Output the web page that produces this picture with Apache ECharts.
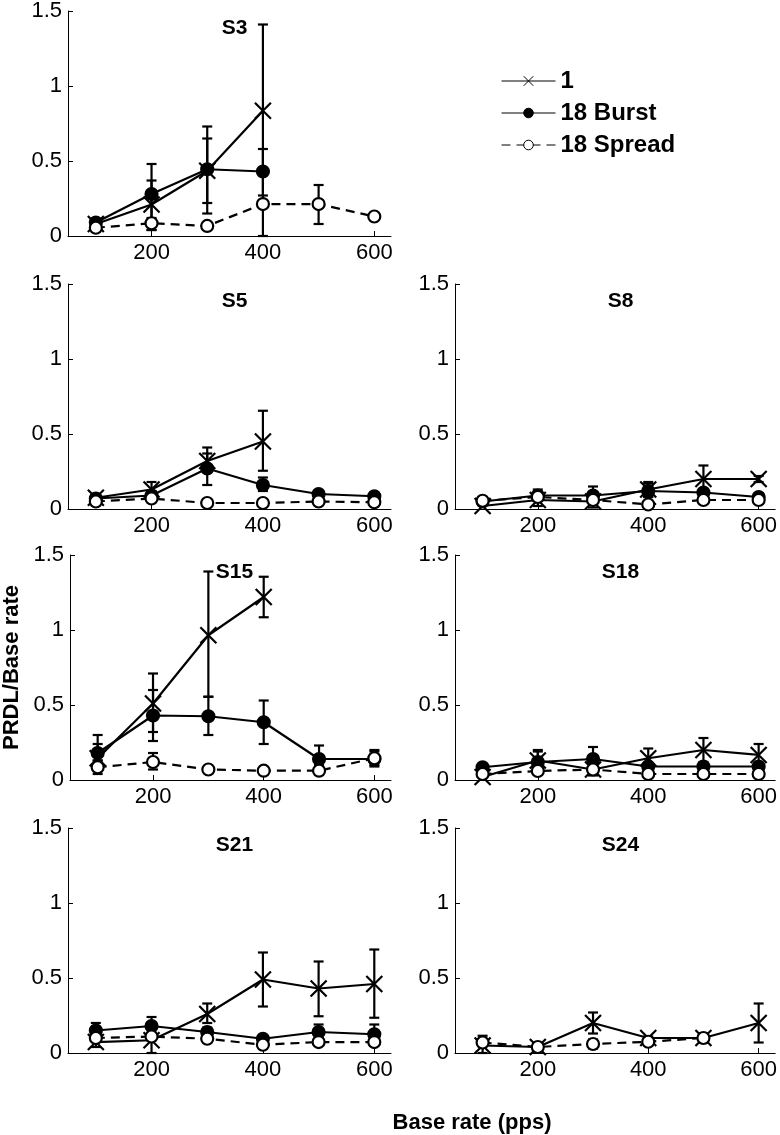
<!DOCTYPE html>
<html>
<head>
<meta charset="utf-8">
<title>PRDL / Base rate</title>
<script src="https://cdn.jsdelivr.net/npm/echarts@6/dist/echarts.min.js"></script>
<style>
  html, body { margin: 0; padding: 0; background: #fff; }
  #chart { width: 780px; height: 1135px; }
</style>
</head>
<body>
<div id="chart"></div>
<script>
// x values (base rate, pps) and axis ticks
const rates = [100, 200, 300, 400, 500, 600];
const xTicks = [200, 400, 600];
const seriesNames = ['1', '18 Burst', '18 Spread'];

// PRDL/Base rate per base rate (null = no point), error bars as [low, high]
const s3One = [0.08, 0.21, 0.435, 0.835, null, null];
const s3OneErr = [null, [0.04, 0.37], [0.15, 0.73], [0, 1.41], null, null];
const s3Burst = [0.09, 0.28, 0.445, 0.43, null, null];
const s3BurstErr = [null, [0.1, 0.48], [0.22, 0.65], [0.27, 0.58], null, null];
const s3Spread = [0.055, 0.085, 0.067, 0.213, 0.213, 0.13];
const s3SpreadErr = [null, [0.04, 0.12], null, null, [0.08, 0.34], null];

const s5One = [0.075, 0.13, 0.32, 0.45, null, null];
const s5OneErr = [[0.06, 0.1], [0.08, 0.18], [0.26, 0.41], [0.255, 0.655], null, null];
const s5Burst = [0.07, 0.09, 0.27, 0.16, 0.1, 0.085];
const s5BurstErr = [null, [0.06, 0.12], [0.16, 0.37], [0.12, 0.21], null, null];
const s5Spread = [0.05, 0.07, 0.04, 0.04, 0.05, 0.045];
const s5SpreadErr = [null, null, null, null, null, null];

const s8One = [0.02, 0.06, 0.05, 0.13, 0.2, 0.2];
const s8OneErr = [null, [0.02, 0.1], [0.01, 0.09], [0.08, 0.18], [0.13, 0.29], [0.18, 0.22]];
const s8Burst = [0.05, 0.09, 0.09, 0.12, 0.11, 0.08];
const s8BurstErr = [null, [0.06, 0.13], [0.04, 0.15], [0.08, 0.17], null, null];
const s8Spread = [0.055, 0.08, 0.06, 0.03, 0.06, 0.06];
const s8SpreadErr = [null, null, null, null, null, null];

const s15One = [0.145, 0.51, 0.965, 1.22, null, null];
const s15OneErr = [[0.1, 0.3], [0.32, 0.71], [0.555, 1.39], [1.085, 1.355], null, null];
const s15Burst = [0.18, 0.43, 0.425, 0.385, 0.14, 0.14];
const s15BurstErr = [[0.13, 0.24], [0.26, 0.6], [0.3, 0.555], [0.24, 0.53], [0.1, 0.23], [0.09, 0.19]];
const s15Spread = [0.085, 0.12, 0.07, 0.062, 0.062, 0.145];
const s15SpreadErr = [[0.04, 0.13], [0.07, 0.18], null, null, null, [0.1, 0.2]];

const s18One = [0.02, 0.13, 0.07, 0.145, 0.2, 0.167];
const s18OneErr = [null, [0.07, 0.19], [0.03, 0.11], [0.08, 0.21], [0.12, 0.28], [0.1, 0.24]];
const s18Burst = [0.085, 0.12, 0.14, 0.09, 0.09, 0.09];
const s18BurstErr = [null, [0.06, 0.2], [0.06, 0.22], null, null, null];
const s18Spread = [0.04, 0.06, 0.07, 0.04, 0.04, 0.04];
const s18SpreadErr = [null, null, null, null, null, null];

const s21One = [0.073, 0.085, 0.26, 0.49, 0.43, 0.46];
const s21OneErr = [[0.04, 0.1], [0, 0.17], [0.2, 0.33], [0.31, 0.67], [0.245, 0.61], [0.235, 0.69]];
const s21Burst = [0.15, 0.18, 0.14, 0.095, 0.14, 0.125];
const s21BurstErr = [[0.11, 0.2], [0.13, 0.24], [0.1, 0.17], [0.08, 0.11], [0.1, 0.19], [0.07, 0.19]];
const s21Spread = [0.1, 0.11, 0.095, 0.055, 0.073, 0.073];
const s21SpreadErr = [null, null, null, null, null, null];

const s24One = [0.05, 0.04, 0.2, 0.1, 0.1, 0.2];
const s24OneErr = [[0, 0.115], [0.02, 0.05], [0.13, 0.27], [0.07, 0.11], [0.07, 0.13], [0.07, 0.33]];
const s24Spread = [0.07, 0.04, 0.06, 0.075, 0.1, null];
const s24SpreadErr = [null, null, [0.03, 0.09], null, null, null];

// subject panels: [name, row, col, one, burst, spread]
const panels = [
  ['S3', 0, 0, [s3One, s3OneErr], [s3Burst, s3BurstErr], [s3Spread, s3SpreadErr]],
  ['S5', 1, 0, [s5One, s5OneErr], [s5Burst, s5BurstErr], [s5Spread, s5SpreadErr]],
  ['S8', 1, 1, [s8One, s8OneErr], [s8Burst, s8BurstErr], [s8Spread, s8SpreadErr]],
  ['S15', 2, 0, [s15One, s15OneErr], [s15Burst, s15BurstErr], [s15Spread, s15SpreadErr]],
  ['S18', 2, 1, [s18One, s18OneErr], [s18Burst, s18BurstErr], [s18Spread, s18SpreadErr]],
  ['S21', 3, 0, [s21One, s21OneErr], [s21Burst, s21BurstErr], [s21Spread, s21SpreadErr]],
  ['S24', 3, 1, [s24One, s24OneErr], null, [s24Spread, s24SpreadErr]]
];

const fontFamily = '"Liberation Sans", Arial, Helvetica, sans-serif';
const colLeft = [68, 455];
const colWidth = [323, 321];
const rowTop = [11, 284, 555, 828];
const gridH = 225;

const xMark = 'path://M0,0L10,10M10,0L0,10';
const looks = [
  { symbol: xMark, symbolSize: 16, fill: '#000', dashed: false },
  { symbol: 'circle', symbolSize: 12, fill: '#000', dashed: false },
  { symbol: 'circle', symbolSize: 12, fill: '#fff', dashed: true }
];

function points(vals) {
  const out = [];
  rates.forEach((r, k) => { if (vals[k] != null) out.push([r, vals[k]]); });
  return out;
}
function errPoints(errs) {
  const out = [];
  rates.forEach((r, k) => { if (errs[k]) out.push([r, errs[k][0], errs[k][1]]); });
  return out;
}

// vertical error bar with caps
function renderErr(params, api) {
  const x = api.value(0);
  const top = api.coord([x, api.value(2)]);
  const bot = api.coord([x, api.value(1)]);
  const half = 5;
  const style = { stroke: '#000', lineWidth: 2.2 };
  return {
    type: 'group',
    children: [
      { type: 'line', shape: { x1: top[0], y1: top[1], x2: bot[0], y2: bot[1] }, style },
      { type: 'line', shape: { x1: top[0] - half, y1: top[1], x2: top[0] + half, y2: top[1] }, style },
      { type: 'line', shape: { x1: bot[0] - half, y1: bot[1], x2: bot[0] + half, y2: bot[1] }, style }
    ]
  };
}

const grids = [], xAxes = [], yAxes = [], titles = [], series = [];

panels.forEach((p, i) => {
  const [name, row, col] = p;
  const left = colLeft[col], top = rowTop[row], width = colWidth[col];
  grids.push({ left: left, top: top, width: width, height: gridH });
  titles.push({
    text: name, left: left + width / 2, top: top + 2, textAlign: 'center',
    textStyle: { fontSize: 21, fontWeight: 'bold', color: '#000', fontFamily }
  });
  xAxes.push({
    type: 'value', gridIndex: i, min: 50, max: 630,
    axisLine: { lineStyle: { color: '#000', width: 1 } },
    axisTick: { inside: true, length: 5, customValues: xTicks, lineStyle: { color: '#000' } },
    axisLabel: { customValues: xTicks, fontSize: 22, color: '#000', margin: 6, fontFamily },
    splitLine: { show: false }
  });
  const yAxis = {
    type: 'value', gridIndex: i, min: 0, max: 1.5, interval: 0.5,
    axisLine: { show: true, lineStyle: { color: '#000', width: 1 } },
    axisTick: { show: true, inside: true, length: 5, lineStyle: { color: '#000' } },
    axisLabel: { fontSize: 22, color: '#000', margin: 6, fontFamily },
    splitLine: { show: false }
  };
  if (name === 'S15') {
    yAxis.name = 'PRDL/Base rate';
    yAxis.nameLocation = 'middle';
    yAxis.nameGap = 47;
    yAxis.nameTextStyle = { fontSize: 22, fontWeight: 'bold', color: '#000', fontFamily };
  }
  yAxes.push(yAxis);

  [p[3], p[4], p[5]].forEach((set, s) => {
    if (!set) return;
    const look = looks[s];
    series.push({
      type: 'custom', name: seriesNames[s] + ' err', xAxisIndex: i, yAxisIndex: i,
      renderItem: renderErr, data: errPoints(set[1]), encode: { x: 0, y: [1, 2] },
      z: 1, silent: true
    });
    series.push({
      type: 'line', name: seriesNames[s], xAxisIndex: i, yAxisIndex: i,
      data: points(set[0]), symbol: look.symbol, symbolSize: look.symbolSize,
      showAllSymbol: true,
      lineStyle: { color: '#000', width: 2.2, type: look.dashed ? [9, 6] : 'solid' },
      itemStyle: { color: look.fill, borderColor: '#000', borderWidth: 2.2 },
      emphasis: { disabled: true },
      z: 2 + s
    });
  });
});

const chart = echarts.init(document.getElementById('chart'));
chart.setOption({
  animation: false,
  backgroundColor: '#fff',
  textStyle: { fontFamily },
  title: titles,
  legend: {
    data: seriesNames, orient: 'vertical', left: 496, top: 64,
    itemWidth: 54, itemHeight: 12, itemGap: 8, selectedMode: false,
    textStyle: { fontSize: 24, fontWeight: 'bold', color: '#000', fontFamily },
    lineStyle: { width: 1 }, itemStyle: { borderWidth: 1 }
  },
  grid: grids,
  xAxis: xAxes,
  yAxis: yAxes,
  series: series,
  graphic: [{
    type: 'text', x: 472, y: 1123,
    style: { text: 'Base rate (pps)', font: 'bold 22px ' + fontFamily, fill: '#000', align: 'center', verticalAlign: 'middle' }
  }]
});
</script>
</body>
</html>
